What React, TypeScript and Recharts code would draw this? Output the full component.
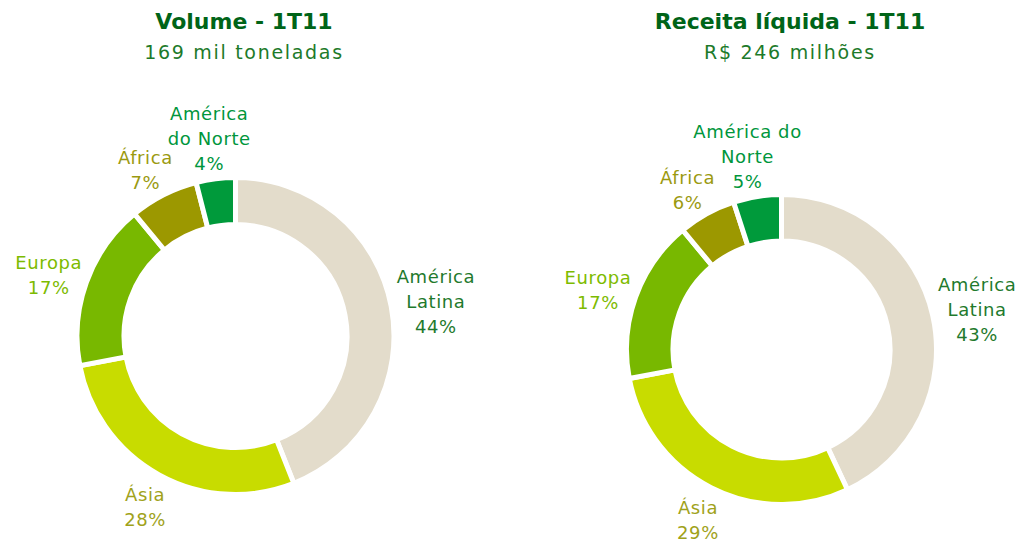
import { PieChart, Pie, Cell } from "recharts";

// market share by region, 1T11
const regions = ["América Latina", "Ásia", "Europa", "África", "América do Norte"];
const volumeShare = [44, 28, 17, 7, 4];   // % of 169 mil toneladas
const revenueShare = [43, 29, 17, 6, 5];  // % of R$ 246 milhões

// label text (line breaks differ between the two charts)
const volumeLabelLines = [["América", "Latina"], ["Ásia"], ["Europa"], ["África"], ["América", "do Norte"]];
const revenueLabelLines = [["América", "Latina"], ["Ásia"], ["Europa"], ["África"], ["América do", "Norte"]];

const titles = ["Volume - 1T11", "Receita líquida - 1T11"];
const subtitles = ["169 mil toneladas", "R$ 246 milhões"];

const sliceColors = ["#E3DCCB", "#C8DC00", "#78B800", "#9C9800", "#009A3B"];
const labelColors = ["#1F7A2D", "#A0A21A", "#7DBB00", "#9B9A10", "#00963C"];

const FONT = "Verdana, 'DejaVu Sans', sans-serif";
const LINE_H = 25;
const RADIAN = Math.PI / 180;

const toData = (values: number[]) => regions.map((name, i) => ({ name, value: values[i] }));

// Excel-like outside label: box pushed out along the slice's mid angle
const makeLabel = (lines: string[][]) => (props: any) => {
  const { cx, cy, midAngle, outerRadius, index, value } = props;
  const rows = [...lines[index], `${value}%`];
  const dx = Math.cos(-midAngle * RADIAN);
  const dy = Math.sin(-midAngle * RADIAN);
  const r = outerRadius + 7;
  const w = Math.max(...rows.map((s) => s.length)) * 11;
  const h = rows.length * LINE_H;
  const bx = cx + r * dx + (dx * w) / 2;
  const by = cy + r * dy + (dy * h) / 2;
  const top = by - h / 2;
  return (
    <text
      x={bx}
      y={top + 23}
      textAnchor="middle"
      fill={labelColors[index]}
      fontFamily={FONT}
      fontSize={18}
      letterSpacing={0.6}
    >
      {rows.map((s, i) => (
        <tspan key={i} x={bx} dy={i === 0 ? 0 : LINE_H}>
          {s}
        </tspan>
      ))}
    </text>
  );
};

const titleCenters = [244, 790];

export default function App() {
  return (
    <div style={{ position: "relative", width: 1021, height: 546, background: "#fff" }}>
      <style>{"body{margin:0}"}</style>
      {titles.map((t, i) => (
        <div
          key={t}
          style={{
            position: "absolute",
            left: titleCenters[i] - 200,
            width: 400,
            top: 7,
            textAlign: "center",
            fontFamily: FONT,
          }}
        >
          <div style={{ fontSize: 22, fontWeight: "bold", color: "#006418", lineHeight: "30px" }}>{t}</div>
          <div style={{ fontSize: 19, color: "#1D7A2A", letterSpacing: 1.7, lineHeight: "30px" }}>
            {subtitles[i]}
          </div>
        </div>
      ))}
      <PieChart
        width={1021}
        height={546}
        margin={{ top: 0, right: 0, bottom: 0, left: 0 }}
        style={{ position: "absolute", left: 0, top: 0 }}
      >
        <Pie
          data={toData(volumeShare)}
          dataKey="value"
          nameKey="name"
          cx={235.5}
          cy={336}
          outerRadius={158.5}
          innerRadius={111.5}
          startAngle={90}
          endAngle={-270}
          stroke="#fff"
          strokeWidth={5}
          label={makeLabel(volumeLabelLines)}
          labelLine={false}
          isAnimationActive={false}
        >
          {regions.map((r, i) => (
            <Cell key={r} fill={sliceColors[i]} />
          ))}
        </Pie>
        <Pie
          data={toData(revenueShare)}
          dataKey="value"
          nameKey="name"
          cx={781.5}
          cy={349.5}
          outerRadius={155}
          innerRadius={108.5}
          startAngle={90}
          endAngle={-270}
          stroke="#fff"
          strokeWidth={5}
          label={makeLabel(revenueLabelLines)}
          labelLine={false}
          isAnimationActive={false}
        >
          {regions.map((r, i) => (
            <Cell key={r} fill={sliceColors[i]} />
          ))}
        </Pie>
      </PieChart>
    </div>
  );
}
